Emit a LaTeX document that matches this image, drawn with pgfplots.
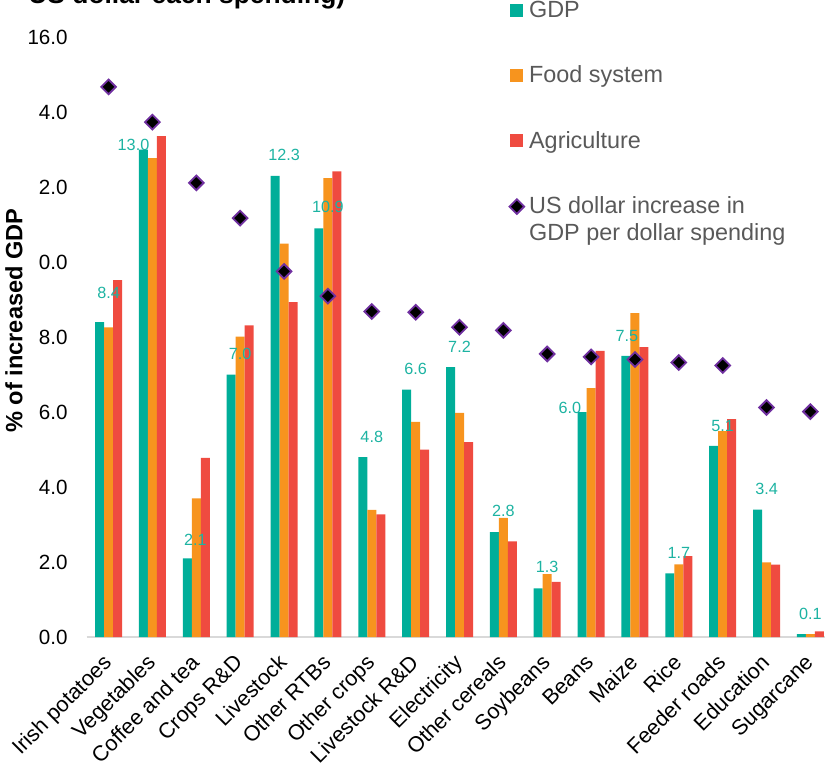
\documentclass[border=0pt]{standalone}
\usepackage{pgfplots}
\pgfplotsset{compat=1.18}
\usepackage{pgfplotstable}
\usepackage{fontspec}
\setmainfont{Liberation Sans}

\definecolor{cGDP}{HTML}{00AE99}
\definecolor{cFood}{HTML}{F7941E}
\definecolor{cAgri}{HTML}{EF4B40}
\definecolor{cLab}{HTML}{1DB3A2}
\definecolor{cDia}{HTML}{7030A0}
\definecolor{cLeg}{HTML}{595959}
\definecolor{cAxis}{HTML}{D9D9D9}

\pgfplotsset{
  barleg/.style={legend image code/.code={\fill[##1] (0pt,0.5pt) rectangle (6.5pt,7pt);}},
  dialeg/.style={legend image code/.code={\draw[##1] plot coordinates {(3.25pt,3.5pt)};}},
}

% idx: category position; lx/ly: label offsets (pt)
\pgfplotstableread{
idx gdp   food   agri   usd    lx     ly
0   8.4   8.26   9.52   14.67  0      11.5
1   13.0  12.77  13.36  13.73  -9.45  -0.75
2   2.1   3.70   4.78   12.11  -0.5   6
3   7.0   8.01   8.31   11.17  0      7
4   12.3  10.49  8.93   9.75   0      7.5
5   10.9  12.24  12.42  9.09   0      7.5
6   4.8   3.39   3.27   8.68   0      7
7   6.6   5.74   5.00   8.66   0      7
8   7.2   5.98   5.20   8.26   0      7
9   2.8   3.18   2.55   8.18   0      7.5
10  1.3   1.68   1.47   7.55   0      7.5
11  6.0   6.64   7.63   7.47   -10.6  -0.85
12  7.5   8.64   7.73   7.40   -4     7
13  1.7   1.94   2.16   7.32   0      7
14  5.1   5.49   5.81   7.24   0      7
15  3.4   1.99   1.93   6.12   0      7
16  0.08  0.08   0.15   6.01   0      7
}\data

\begin{document}
\begin{tikzpicture}
\begin{axis}[
  at={(43.3pt,65.5pt)}, anchor=south west,
  scale only axis, width=372.9pt, height=300pt,
  xmin=-0.5, xmax=16.5, ymin=0, ymax=16,
  xtick={0,...,16},
  xticklabels={Irish potatoes,Vegetables,Coffee and tea,Crops R\&D,Livestock,Other RTBs,Other crops,Livestock R\&D,Electricity,Other cereals,Soybeans,Beans,Maize,Rice,Feeder roads,Education,Sugarcane},
  ytick={0,2,...,16},
  yticklabels={0.0,2.0,4.0,6.0,8.0,0.0,2.0,4.0,16.0},
  axis x line*=bottom, axis y line*=left,
  x axis line style={draw=cAxis, line width=1pt, -},
  y axis line style={draw=none},
  major tick length=0pt,
  tick style={draw=none},
  xticklabel style={font=\fontsize{10.8}{13}\selectfont, rotate=45, anchor=north east, inner sep=0pt, xshift=-8pt, yshift=-3pt},
  yticklabel style={font=\fontsize{10.3}{12}\selectfont, anchor=east, inner sep=0pt, xshift=-9.3pt},
  clip=false,
  /pgf/number format/assume math mode=true,
  legend style={at={(0.5664,1.0617)}, anchor=north west, draw=none, fill=none,
    inner sep=0pt, row sep=21.57pt, column sep=2.5pt,
    font=\fontsize{11.7}{13.5}\selectfont, text=cLeg,
    cells={anchor=base west},
    nodes={inner sep=0pt, text height=8.6pt, text depth=2.5pt}},
]
\addplot[ybar, bar width=4.5pt, bar shift=-4.5pt, fill=cGDP, draw=none, barleg,
  point meta=y,
  visualization depends on={\thisrow{lx} \as \lx},
  visualization depends on={\thisrow{ly} \as \ly},
  nodes near coords={\pgfmathprintnumber[fixed,fixed zerofill,precision=1]{\pgfplotspointmeta}},
  nodes near coords style={font=\fontsize{8.1}{10}\selectfont, text=cLab, anchor=south, inner sep=0pt, xshift=\lx pt, yshift=\ly pt},
] table[x=idx, y=gdp] {\data};
\addlegendentry{GDP}
\addplot[ybar, bar width=4.5pt, bar shift=0pt, fill=cFood, draw=none, barleg]
  table[x=idx, y=food] {\data};
\addlegendentry{Food system}
\addplot[ybar, bar width=4.5pt, bar shift=4.5pt, fill=cAgri, draw=none, barleg]
  table[x=idx, y=agri] {\data};
\addlegendentry{Agriculture}
\addplot[only marks, mark=square*, mark size=2.6pt,
  mark options={rotate=45, fill=black, draw=cDia, line width=0.9pt}, dialeg]
  table[x=idx, y=usd] {\data};
\addlegendentry{\begin{tabular}[t]{@{}l@{}}US dollar increase in\\GDP per dollar spending\end{tabular}}
\end{axis}
% axis title and heading
\node[rotate=90, font=\bfseries\fontsize{11.8}{14}\selectfont] at (7pt,223.75pt) {\% of increased GDP};
\node[anchor=base west, inner sep=0pt, font=\bfseries\fontsize{13.2}{16}\selectfont] at (14pt,382pt) {US dollar each spending)};
\pgfresetboundingbox
\useasboundingbox (0pt,0pt) rectangle (412.5pt,384pt);
\end{tikzpicture}
\end{document}
